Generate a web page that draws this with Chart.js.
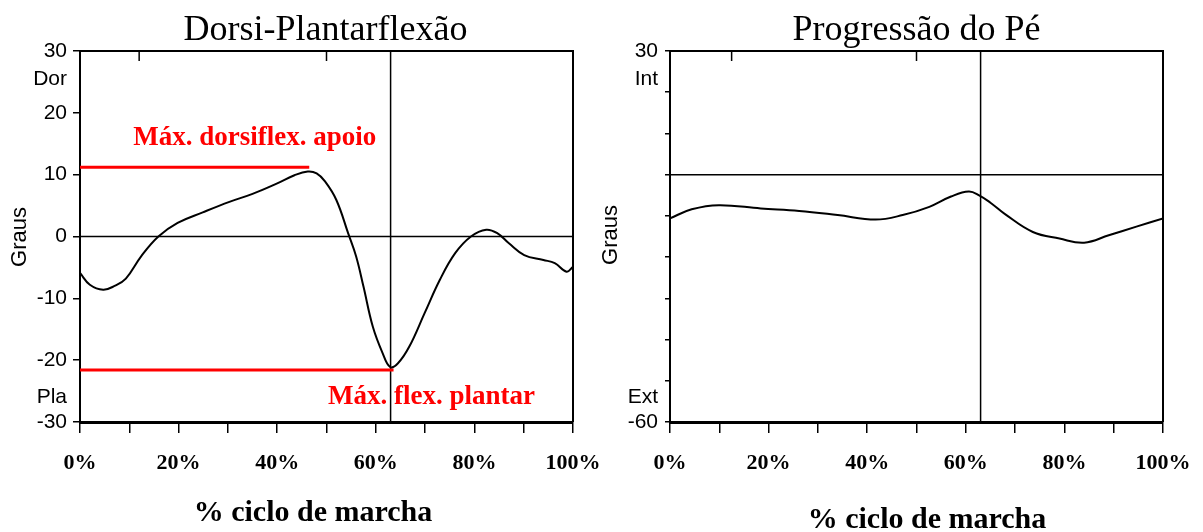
<!DOCTYPE html>
<html>
<head>
<meta charset="utf-8">
<script src="https://cdn.jsdelivr.net/npm/chart.js@4.4.1/dist/chart.umd.min.js"></script>
<style>
  html, body { margin: 0; padding: 0; background: #fff; }
  #wrap { position: relative; width: 1203px; height: 532px; overflow: hidden; }
  #dorsi { position: absolute; left: 0; top: 0; }
  #prog { position: absolute; left: 600px; top: 0; }
</style>
</head>
<body>
<div id="wrap">
  <canvas id="dorsi" width="600" height="532"></canvas>
  <canvas id="prog" width="603" height="532"></canvas>
</div>
<script>
// ---- Dorsi-plantarflexion curve (% gait cycle, degrees) ----
const dorsiPct = [0, 2, 4.7, 7, 9.3, 12.4, 15.9, 19.8, 24.9, 30.3, 35, 40, 43.5, 46.2, 48, 49.7, 52, 54.4, 56, 57.5, 59.4, 61.4, 62.9, 64.5, 66.8, 69.9, 73, 76.1, 79.3, 82.4, 84.7, 87, 90.1, 94, 96.3, 98.7, 100];
const dorsiDeg = [-5.9, -7.8, -8.6, -8.0, -6.8, -3.2, 0, 2.2, 3.9, 5.6, 6.9, 8.6, 9.9, 10.5, 10.2, 8.9, 5.9, 0.5, -3.2, -8.1, -14.6, -18.9, -21.1, -20.5, -17.8, -12.4, -7.0, -2.7, 0, 1.1, 0.5, -1.1, -3.0, -3.8, -4.3, -5.7, -4.9];

// ---- Foot progression curve ----
const progPct = [0, 4.4, 9.9, 18.4, 26.2, 34, 41.7, 47.2, 52.6, 57, 60.6, 62.7, 65, 68.1, 73.6, 79, 84, 89, 94.6, 100];
const progDeg = [-10.6, -8.4, -7.4, -8.2, -8.8, -9.8, -10.9, -9.8, -7.8, -5.3, -4.1, -5.0, -6.8, -9.7, -13.9, -15.5, -16.5, -14.7, -12.6, -10.6];

// ---- Gait events (% cycle) ----
const toeOffPct = 63;
const dorsiEventTicks = [12, 50];
const progEventTicks = [12.5, 50];

// ---- Reference levels on the dorsi chart ----
const maxDorsiStance = { value: 11.2, endPct: 46.5, label: 'Máx. dorsiflex. apoio', labelPct: 10.8, labelDeg: 14.75 };
const maxPlantarFlex = { value: -21.6, endPct: 63.6, label: 'Máx. flex. plantar', labelPct: 50.3, labelDeg: -27.1 };

// ---- Axis ranges and labels ----
const dorsiRange = [-30, 30];
const progRange = [-60, 30];
const xTickLabels = ['0%', '20%', '40%', '60%', '80%', '100%'];
const xTitle = '% ciclo de marcha';
const yTitle = 'Graus';

const toPoints = (xs, ys) => xs.map((x, i) => ({ x, y: ys[i] }));

const decor = {
  id: 'decor',
  afterDatasetsDraw(chart, args, o) {
    const { ctx, chartArea: a, scales: { x } } = chart;
    ctx.save();
    ctx.strokeStyle = '#000';
    ctx.lineWidth = 2;
    ctx.beginPath();
    ctx.moveTo(a.left, a.top);
    ctx.lineTo(a.right, a.top);
    ctx.lineTo(a.right, a.bottom);
    ctx.stroke();
    ctx.lineWidth = 1.5;
    o.eventTicks.forEach(p => {
      const px = x.getPixelForValue(p);
      ctx.beginPath();
      ctx.moveTo(px, a.top);
      ctx.lineTo(px, a.top + 10);
      ctx.stroke();
    });
    ctx.restore();
  },
  afterDraw(chart, args, o) {
    const { ctx, scales: { x, y } } = chart;
    ctx.save();
    ctx.fillStyle = '#000';
    // chart title
    ctx.font = '36px "Liberation Serif"';
    ctx.textAlign = 'center';
    ctx.textBaseline = 'alphabetic';
    ctx.fillText(o.title, o.titleX, 40);
    // x axis title
    ctx.font = 'bold 30px "Liberation Serif"';
    ctx.fillText(xTitle, o.xTitleX, o.xTitleY);
    // y axis title
    ctx.font = '22px "Liberation Sans"';
    ctx.save();
    ctx.translate(o.yTitleX, o.yTitleY);
    ctx.rotate(-Math.PI / 2);
    ctx.textBaseline = 'middle';
    ctx.fillText(yTitle, 0, 0);
    ctx.restore();
    // direction words under/over the extreme ticks
    ctx.font = '21px "Liberation Sans"';
    ctx.textAlign = 'right';
    ctx.textBaseline = 'middle';
    ctx.fillText(o.upper, o.sideX, 79);
    ctx.fillText(o.lower, o.sideX, 397);
    // red annotations
    ctx.fillStyle = '#ff0000';
    ctx.font = 'bold 27px "Liberation Serif"';
    ctx.textAlign = 'left';
    ctx.textBaseline = 'alphabetic';
    (o.notes || []).forEach(n => {
      ctx.fillText(n.label, x.getPixelForValue(n.labelPct), y.getPixelForValue(n.labelDeg));
    });
    ctx.restore();
  }
};

function xAxis(labelPad) {
  return {
    type: 'linear', min: 0, max: 100,
    ticks: {
      stepSize: 10, autoSkip: false, maxRotation: 0, minRotation: 0,
      color: '#000', padding: labelPad,
      font: { family: 'Liberation Serif', size: 22, weight: 'bold' },
      callback: v => (v % 20 === 0 ? xTickLabels[v / 20] : '')
    },
    grid: { drawOnChartArea: false, drawTicks: true, tickLength: 11, color: '#000', lineWidth: 1.5 },
    border: { display: true, color: '#000', width: 3 },
    afterFit(s) { s.height = 110; s.paddingLeft = 0; s.paddingRight = 0; }
  };
}

function yAxis(range, width, tickLen, pad, labelFn) {
  return {
    min: range[0], max: range[1],
    ticks: {
      stepSize: 10, autoSkip: false, color: '#000', padding: pad,
      font: { family: 'Liberation Sans', size: 21 },
      callback: labelFn
    },
    grid: { drawOnChartArea: false, drawTicks: true, tickLength: tickLen, color: '#000', lineWidth: 1.5 },
    border: { display: true, color: '#000', width: 2 },
    afterFit(s) { s.width = width; s.paddingTop = 0; s.paddingBottom = 0; }
  };
}

const lineStyle = (color, width, order) => ({
  borderColor: color, borderWidth: width, pointRadius: 0, fill: false, order, tension: 0
});

// ---- Left: Dorsi-Plantarflexão ----
new Chart(document.getElementById('dorsi'), {
  type: 'line',
  data: {
    datasets: [
      { data: toPoints(dorsiPct, dorsiDeg), ...lineStyle('#000', 2, 1), tension: 0.4 },
      { data: [{ x: 0, y: 0 }, { x: 100, y: 0 }], ...lineStyle('#000', 1.5, 3) },
      { data: [{ x: toeOffPct, y: dorsiRange[0] }, { x: toeOffPct, y: dorsiRange[1] }], ...lineStyle('#000', 1.5, 3) },
      { data: [{ x: 0, y: maxDorsiStance.value }, { x: maxDorsiStance.endPct, y: maxDorsiStance.value }], ...lineStyle('#ff0000', 3, 2) },
      { data: [{ x: 0, y: maxPlantarFlex.value }, { x: maxPlantarFlex.endPct, y: maxPlantarFlex.value }], ...lineStyle('#ff0000', 3, 2) }
    ]
  },
  options: {
    responsive: false, animation: false,
    layout: { padding: { left: 0, right: 27, top: 51, bottom: 0 } },
    plugins: {
      legend: { display: false }, tooltip: { enabled: false },
      decor: {
        title: 'Dorsi-Plantarflexão', titleX: 325.5,
        xTitleX: 313, xTitleY: 521,
        yTitleX: 20, yTitleY: 237,
        upper: 'Dor', lower: 'Pla', sideX: 67,
        eventTicks: dorsiEventTicks,
        notes: [maxDorsiStance, maxPlantarFlex]
      }
    },
    scales: {
      x: xAxis(17),
      y: yAxis(dorsiRange, 80, 7, 6, v => String(v))
    }
  },
  plugins: [decor]
});

// ---- Right: Progressão do Pé ----
new Chart(document.getElementById('prog'), {
  type: 'line',
  data: {
    datasets: [
      { data: toPoints(progPct, progDeg), ...lineStyle('#000', 2, 1), tension: 0.4 },
      { data: [{ x: 0, y: 0 }, { x: 100, y: 0 }], ...lineStyle('#000', 1.5, 3) },
      { data: [{ x: toeOffPct, y: progRange[0] }, { x: toeOffPct, y: progRange[1] }], ...lineStyle('#000', 1.5, 3) }
    ]
  },
  options: {
    responsive: false, animation: false,
    layout: { padding: { left: 0, right: 40, top: 51, bottom: 0 } },
    plugins: {
      legend: { display: false }, tooltip: { enabled: false },
      decor: {
        title: 'Progressão do Pé', titleX: 316.5,
        xTitleX: 327, xTitleY: 528,
        yTitleX: 11, yTitleY: 235,
        upper: 'Int', lower: 'Ext', sideX: 58,
        eventTicks: progEventTicks,
        notes: []
      }
    },
    scales: {
      x: xAxis(17),
      y: yAxis(progRange, 70, 5, 7, v => (v === progRange[0] || v === progRange[1] ? String(v) : ''))
    }
  },
  plugins: [decor]
});
</script>
</body>
</html>
